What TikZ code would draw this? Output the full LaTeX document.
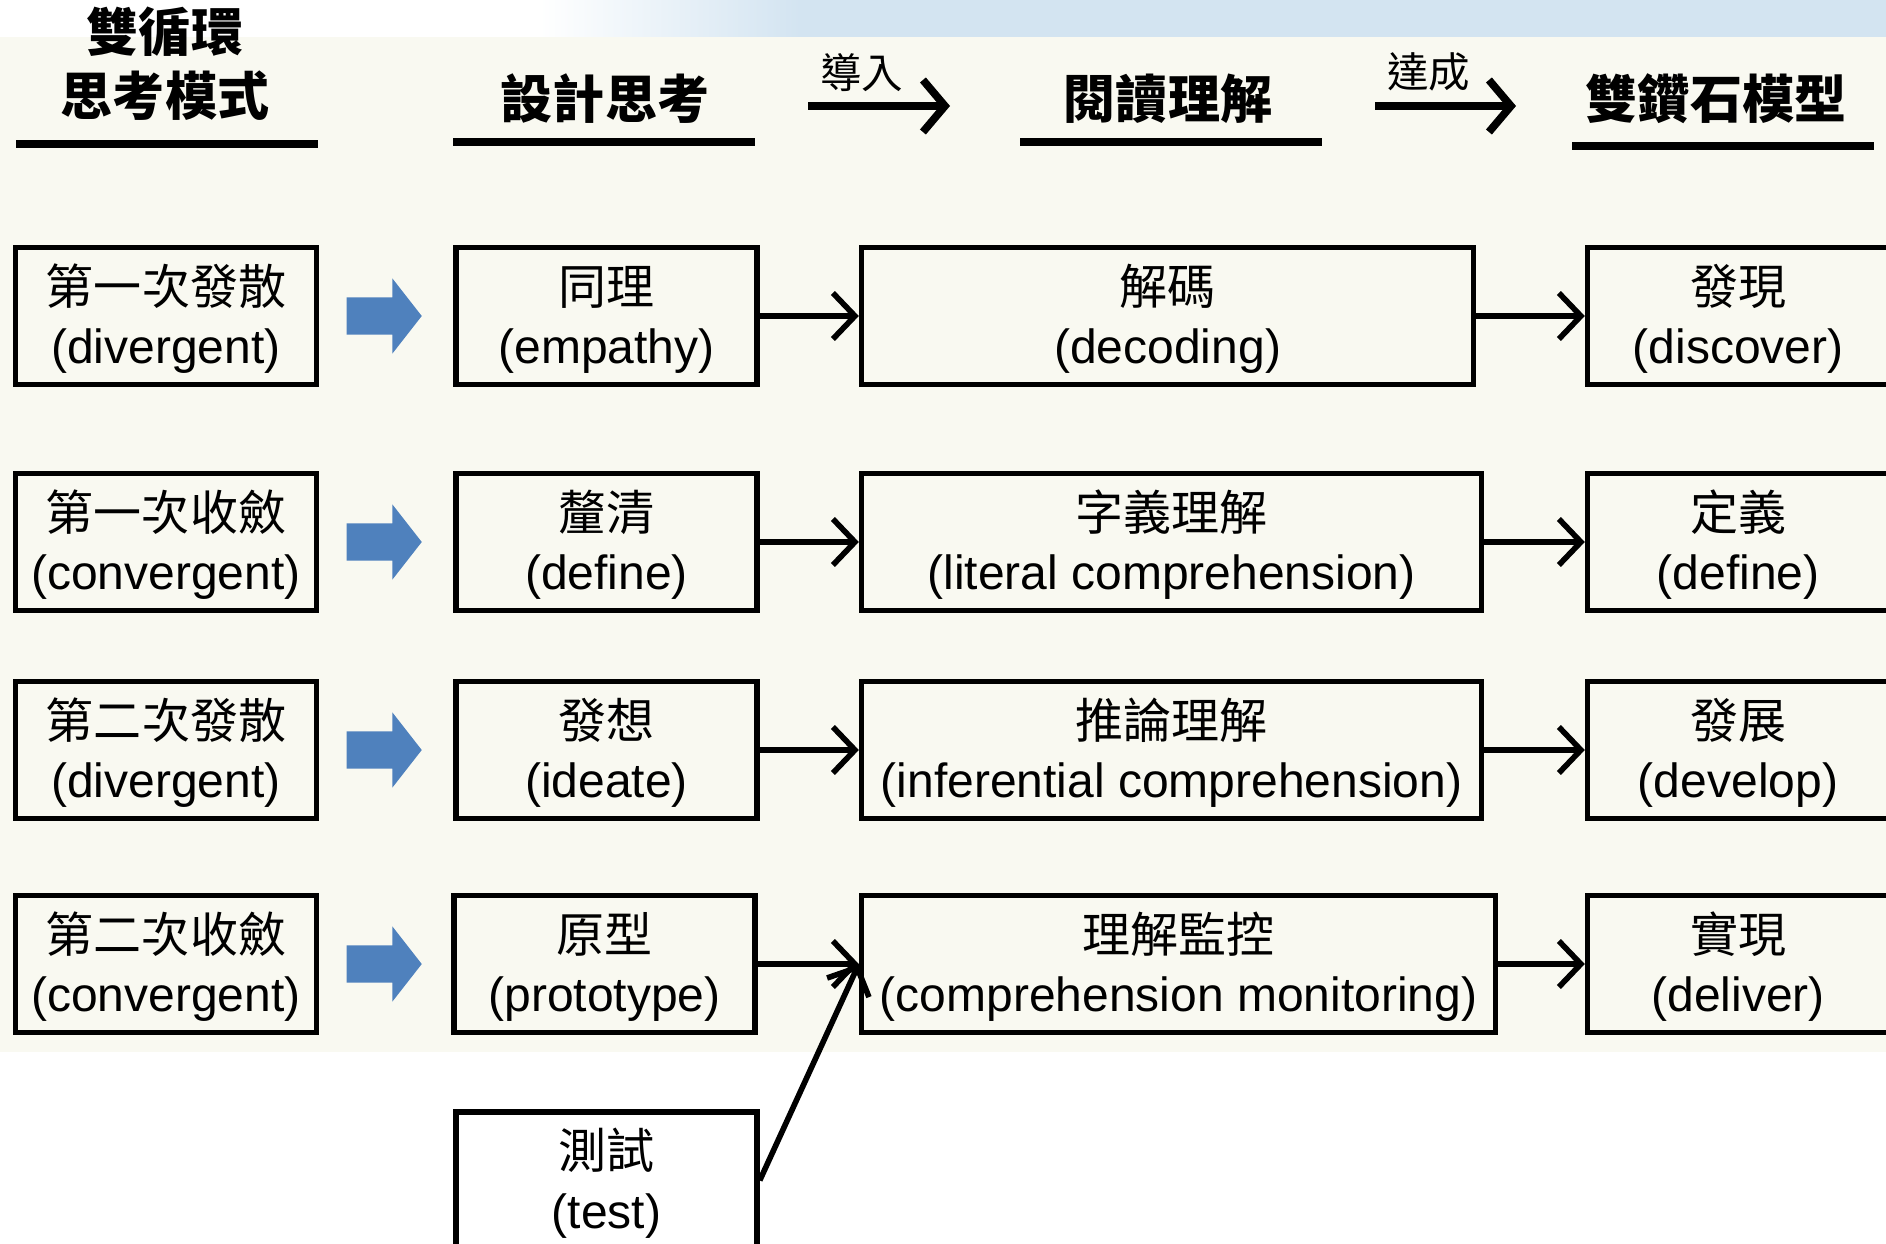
\documentclass[tikz,border=0pt]{standalone}
\usepackage{fontspec}
\setmainfont{Liberation Sans}
\newfontfamily\zhfont{Noto Sans CJK TC}
\usepackage{xcolor}
\usetikzlibrary{arrows.meta,positioning,shapes.arrows}

\definecolor{cream}{RGB}{249,249,241}
\definecolor{skyband}{RGB}{211,228,241}
\definecolor{phaseblue}{RGB}{79,129,189}
\newcommand{\zh}[1]{\rule{0pt}{13.2pt}{\zhfont #1}}

\begin{document}
\begin{tikzpicture}[x=0.01cm,y=-0.01cm,>={Straight Barb[length=2.2mm,width=4.6mm]}]
        \tikzset{box/.style={draw, rectangle, line width=1.5pt, align=center, inner sep=0pt,
                minimum width=3.01cm, minimum height=1.37cm, font=\fontsize{13.65}{16.9}\selectfont},
        wbox/.style={box, minimum width=#1},
        head/.style={align=center, font=\zhfont\bfseries\fontsize{14.8}{18.2}\selectfont},
        tag/.style={font=\zhfont\fontsize{11.8}{14}\selectfont, inner sep=3pt},
        uline/.style={line width=2.3pt},
        link/.style={->, line width=1.6pt},
        lead/.style={-{Straight Barb[length=2.2mm,width=5.2mm]}, line width=2.2pt},
        phase/.style={single arrow, fill=phaseblue, inner sep=0.18cm, minimum height=0.75cm,
                single arrow head extend=0.19cm, single arrow tip angle=104, anchor=tail}
        }
        \useasboundingbox (0,0) rectangle (1886,1243);
        %% background
        \fill[white] (0,0) rectangle (1886,1243);
        \shade[left color=white, right color=skyband] (540,0) rectangle (800,37);
        \fill[skyband] (800,0) rectangle (1886,37);
        \fill[cream] (0,37) rectangle (1886,1052);

        %% headings
        \node [head] (thinking) at (165,64) {雙循環\\思考模式};
        \node [head] (design) at (605,99) {設計思考};
        \node [head] (reading) at (1168,99) {閱讀理解};
        \node [head] (diamond) at (1716,99) {雙鑽石模型};
        \draw[uline] (16,144) -- (318,144);
        \draw[uline] (453,142) -- (755,142);
        \draw[uline] (1020,142) -- (1322,142);
        \draw[uline] (1572,146) -- (1874,146);

        \coordinate (leadA) at (808,106);
        \coordinate (leadB) at (950,106);
        \coordinate (reachA) at (1375,106);
        \coordinate (reachB) at (1516,106);
        \draw[lead] (leadA) -- node[tag, above, pos=0.38] {導入} (leadB);
        \draw[lead] (reachA) -- node[tag, above, pos=0.38] {達成} (reachB);

        %% row 1
        \node [box] (div1) at (166,316) {\zh{第一次發散}\\(divergent)};
        \node [box, right=1.34cm of div1] (empathy) {\zh{同理}\\(empathy)};
        \node [wbox=6.12cm, right=0.99cm of empathy] (decoding) {\zh{解碼}\\(decoding)};
        \node [box] (discover) at (1738,316) {\zh{發現}\\(discover)};
        %% row 2
        \node [box] (conv1) at (166,542) {\zh{第一次收斂}\\(convergent)};
        \node [box, right=1.34cm of conv1] (define) {\zh{釐清}\\(define)};
        \node [wbox=6.20cm, right=0.99cm of define] (literal) {\zh{字義理解}\\(literal comprehension)};
        \node [box] (definedd) at (1738,542) {\zh{定義}\\(define)};
        %% row 3
        \node [box] (div2) at (166,750) {\zh{第二次發散}\\(divergent)};
        \node [box, right=1.34cm of div2] (ideate) {\zh{發想}\\(ideate)};
        \node [wbox=6.20cm, right=0.99cm of ideate] (inferential) {\zh{推論理解}\\(inferential comprehension)};
        \node [box] (develop) at (1738,750) {\zh{發展}\\(develop)};
        %% row 4
        \node [box] (conv2) at (166,964) {\zh{第二次收斂}\\(convergent)};
        \node [box, right=1.32cm of conv2] (prototype) {\zh{原型}\\(prototype)};
        \node [wbox=6.34cm, right=1.01cm of prototype] (monitoring) {\zh{理解監控}\\(comprehension monitoring)};
        \node [box] (deliver) at (1738,964) {\zh{實現}\\(deliver)};
        \node [box, below=0.74cm of prototype, xshift=0.02cm] (test) {\zh{測試}\\(test)};

        %% blue arrows
        \node [phase] (go1) at (346,316) {};
        \node [phase] (go2) at (346,542) {};
        \node [phase] (go3) at (346,750) {};
        \node [phase] (go4) at (346,964) {};

%% paths
        \path[link] (empathy) edge (decoding)
                    (decoding) edge (discover)
                    (define) edge (literal)
                    (literal) edge (definedd)
                    (ideate) edge (inferential)
                    (inferential) edge (develop)
                    (prototype) edge (monitoring)
                    (monitoring) edge (deliver)
                    (test.east) edge (monitoring.west)
                    ;
    \end{tikzpicture}
\end{document}
